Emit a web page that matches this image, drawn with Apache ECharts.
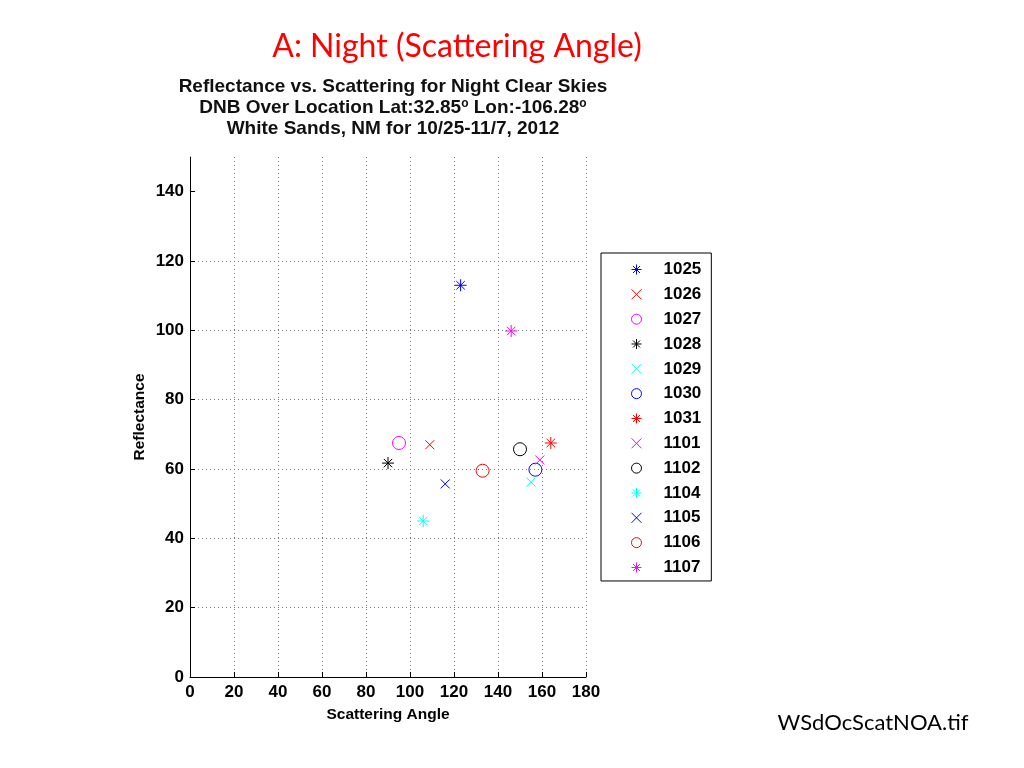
<!DOCTYPE html>
<html>
<head>
<meta charset="utf-8">
<script src="https://cdn.jsdelivr.net/npm/echarts@6/dist/echarts.min.js"></script>
<style>html,body{margin:0;background:#fff}#c{width:1024px;height:768px}</style>
</head>
<body>
<div id="c"></div>
<script>
// readings (scattering angle, reflectance) per night
const nights = ['1025', '1026', '1027', '1028', '1029', '1030', '1031', '1101', '1102', '1104', '1105', '1106', '1107'];
const angle = [123, 109, 95, 90, 155, 157, 164, 159, 150, 106, 116, 133, 146];
const refl = [113, 67, 67.5, 61.7, 56.2, 59.8, 67.5, 62.6, 65.7, 45, 55.7, 59.5, 99.8];
const colors = ['#0000ff', '#ff0000', '#ff00ff', '#000000', '#00ffff', '#0000ff', '#ff0000', '#ff00ff', '#000000', '#00ffff', '#0000ff', '#ff0000', '#ff00ff'];
const marks = ['star', 'x', 'o', 'star', 'x', 'o', 'star', 'x', 'o', 'star', 'x', 'o', 'star'];
const xTicks = [0, 20, 40, 60, 80, 100, 120, 140, 160, 180];
const yTicks = [0, 20, 40, 60, 80, 100, 120, 140];

const SYM = {
  star: { symbol: 'path://M0,5L10,5M5,0L5,10M1.5,1.5L8.5,8.5M1.5,8.5L8.5,1.5', size: 12 },
  x: { symbol: 'path://M0,0L10,10M0,10L10,0', size: 9 },
  o: { symbol: 'circle', size: 13 },
};
const FONT = '"Liberation Sans", Arial, sans-serif';
const GRID = { color: '#777', type: [1, 3], width: 1 };

const chart = echarts.init(document.getElementById('c'), null, { renderer: 'canvas' });
const axisCommon = {
  axisLine: { lineStyle: { color: '#000', width: 1 } },
  axisLabel: { color: '#000', fontFamily: FONT, fontWeight: 'bold', fontSize: 17 },
  nameTextStyle: { color: '#000', fontFamily: FONT, fontWeight: 'bold', fontSize: 15.5 },
  splitLine: { show: true, lineStyle: GRID },
};

chart.setOption({
  backgroundColor: '#fff',
  animation: false,
  title: [
    { text: 'A: Night (Scattering Angle)', left: 452, top: 26, textAlign: 'center',
      textStyle: { color: '#ff0000', fontFamily: 'Lato, "Open Sans", sans-serif', fontWeight: 'normal', fontSize: 32 } },
    { text: 'Reflectance vs. Scattering for Night Clear Skies\nDNB Over Location Lat:32.85{s|o} Lon:-106.28{s|o}\nWhite Sands, NM for 10/25-11/7, 2012',
      left: 388, top: 71, textAlign: 'center',
      textStyle: { color: '#111', fontFamily: FONT, fontWeight: 'bold', fontSize: 19, lineHeight: 21.3,
        rich: { s: { fontFamily: FONT, fontWeight: 'bold', fontSize: 12, verticalAlign: 'top', lineHeight: 21.3, padding: [0, 0, 10, 0] } } } },
    { text: 'WSdOcScatNOA.tif', left: 868, top: 707, textAlign: 'center',
      textStyle: { color: '#000', fontFamily: 'Lato, "Open Sans", sans-serif', fontWeight: 'normal', fontSize: 22 } },
  ],
  grid: { left: 190, top: 157, width: 396, height: 520, containLabel: false },
  xAxis: Object.assign({}, axisCommon, {
    type: 'value', min: 0, max: 180, interval: 20,
    name: 'Scattering Angle', nameLocation: 'middle', nameGap: 30,
    axisTick: { inside: true, length: 5, lineStyle: { color: '#000' } },
    axisLabel: Object.assign({}, axisCommon.axisLabel, { margin: 7, customValues: xTicks }),
  }),
  yAxis: Object.assign({}, axisCommon, {
    type: 'value', min: 0, max: 150, interval: 10,
    name: 'Reflectance', nameLocation: 'middle', nameGap: 42, nameRotate: 90,
    axisTick: { inside: true, length: 5, customValues: yTicks, lineStyle: { color: '#000' } },
    axisLabel: Object.assign({}, axisCommon.axisLabel, { margin: 6, customValues: yTicks }),
    splitLine: { show: true, showMaxLine: false, customValues: yTicks, lineStyle: GRID },
  }),
  legend: {
    orient: 'vertical', left: 601, top: 253, selectedMode: false,
    backgroundColor: '#fff', borderColor: '#000', borderWidth: 1, borderRadius: 0,
    padding: [8, 10, 5, 30], itemWidth: 10, itemHeight: 10, itemGap: 7.83,
    itemStyle: { borderWidth: 1 },
    textStyle: { color: '#000', fontFamily: FONT, fontWeight: 'bold', fontSize: 17, padding: [0, 0, 0, 17] },
    data: nights,
  },
  series: nights.map((n, i) => {
    const m = SYM[marks[i]];
    return {
      name: n, type: 'scatter', symbol: m.symbol, symbolSize: m.size,
      itemStyle: { color: 'transparent', borderColor: colors[i], borderWidth: 1, opacity: 1 },
      data: [[angle[i], refl[i]]],
    };
  }),
});
</script>
</body>
</html>
